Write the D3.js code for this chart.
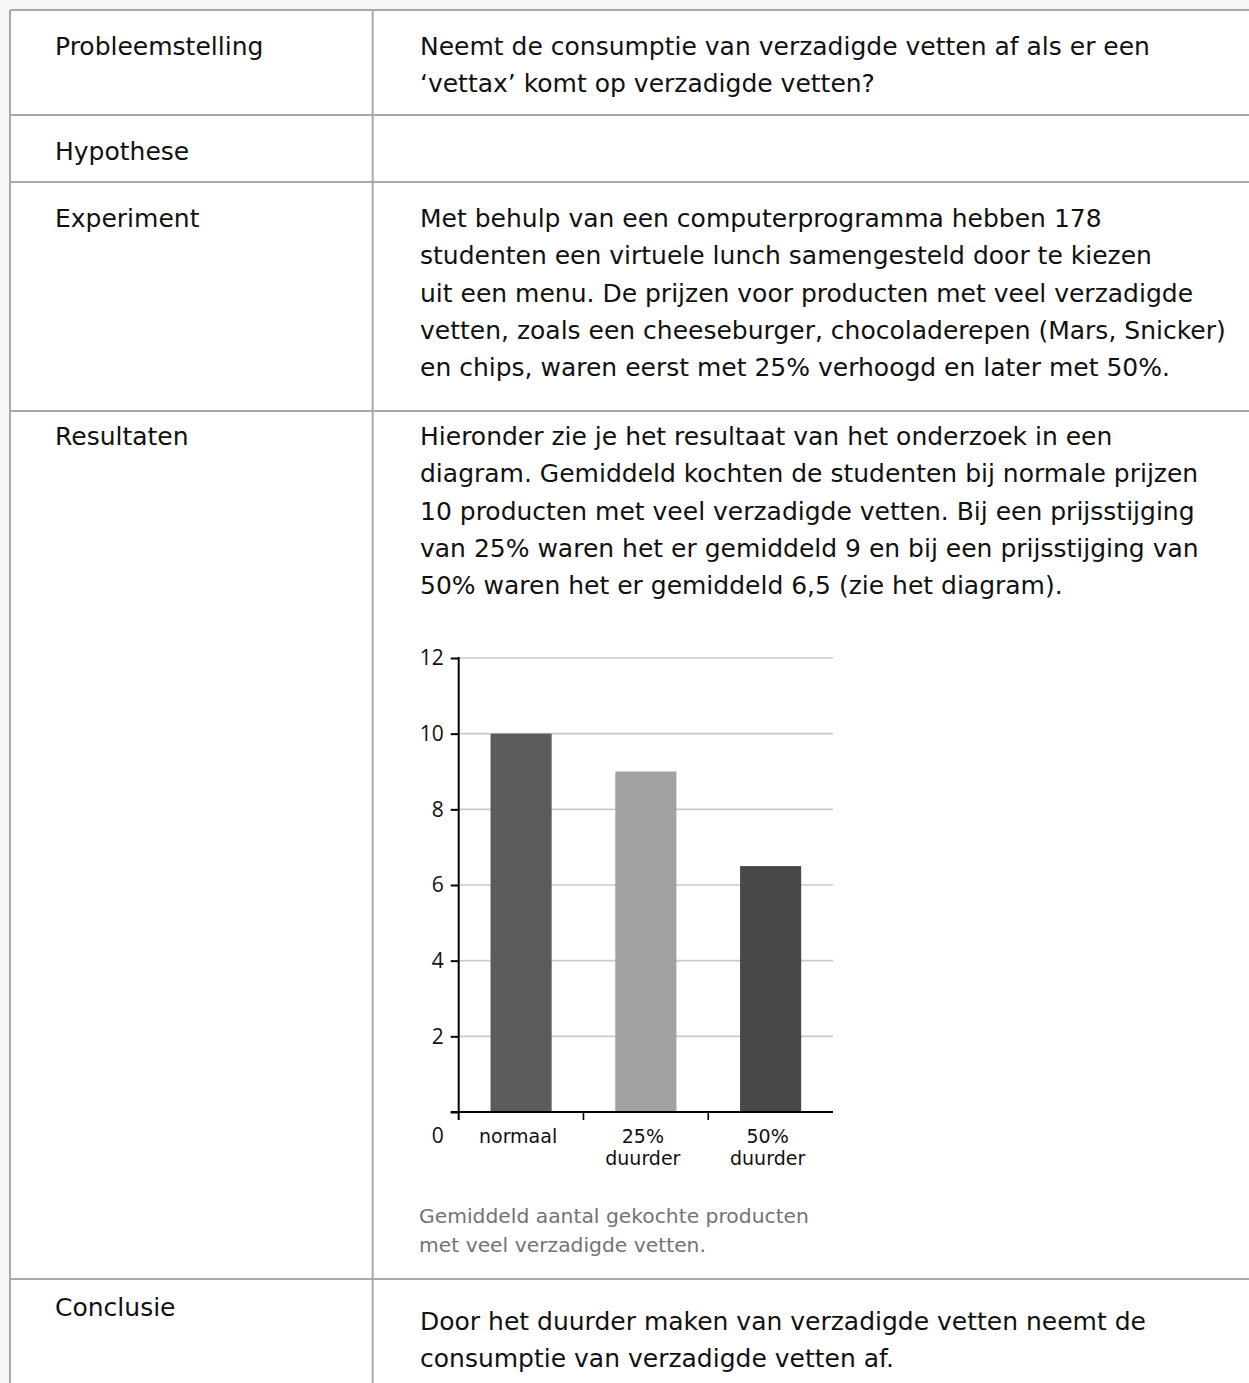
<!DOCTYPE html>
<html>
<head>
<meta charset="utf-8">
<script src="https://cdn.jsdelivr.net/npm/d3@7"></script>
<style>
  body { margin: 0; background: #f7f7f7; }
  svg { display: block; }
</style>
</head>
<body>
<div id="sheet"></div>
<script>
// table content
var rowLabels = ["Probleemstelling", "Hypothese", "Experiment", "Resultaten", "Conclusie"];

var rowTexts = [
  ["Neemt de consumptie van verzadigde vetten af als er een",
   "\u2018vettax\u2019 komt op verzadigde vetten?"],
  [],
  ["Met behulp van een computerprogramma hebben 178",
   "studenten een virtuele lunch samengesteld door te kiezen",
   "uit een menu. De prijzen voor producten met veel verzadigde",
   "vetten, zoals een cheeseburger, chocoladerepen (Mars, Snicker)",
   "en chips, waren eerst met 25% verhoogd en later met 50%."],
  ["Hieronder zie je het resultaat van het onderzoek in een",
   "diagram. Gemiddeld kochten de studenten bij normale prijzen",
   "10 producten met veel verzadigde vetten. Bij een prijsstijging",
   "van 25% waren het er gemiddeld 9 en bij een prijsstijging van",
   "50% waren het er gemiddeld 6,5 (zie het diagram)."],
  ["Door het duurder maken van verzadigde vetten neemt de",
   "consumptie van verzadigde vetten af."]
];

var captionLines = ["Gemiddeld aantal gekochte producten", "met veel verzadigde vetten."];

// chart data
var categories = ["normaal", "25% duurder", "50% duurder"];
var values = [10, 9, 6.5];
var barColors = ["#5b5b5b", "#a1a1a1", "#484848"];
var yTicks = [0, 2, 4, 6, 8, 10, 12];

// layout
var svgWidth = 1249;
var svgHeight = 1383;
var colX = 372.7;
var rowLines = [10, 115, 182, 411, 1279];
var labelBaselines = [55, 160, 227, 445, 1316];
var textBaselines = [55, 160, 227, 445, 1330];
var lineHeight = 37.3;
var bodyFont = "'DejaVu Sans', sans-serif";

var svg = d3.select("#sheet")
  .append("svg")
  .attr("width", svgWidth)
  .attr("height", svgHeight);

// white table body
svg.append("rect")
  .attr("x", 10)
  .attr("y", 10)
  .attr("width", svgWidth - 10)
  .attr("height", svgHeight - 10)
  .attr("fill", "#fff");

// table rules
svg.selectAll(".rowLine")
  .data(rowLines)
  .enter()
  .append("line")
  .attr("x1", 10)
  .attr("x2", svgWidth)
  .attr("y1", d => d)
  .attr("y2", d => d)
  .attr("stroke", "#a9a9a9")
  .attr("stroke-width", 2);

svg.selectAll(".colLine")
  .data([10, colX])
  .enter()
  .append("line")
  .attr("x1", d => d)
  .attr("x2", d => d)
  .attr("y1", 10)
  .attr("y2", svgHeight)
  .attr("stroke", "#a9a9a9")
  .attr("stroke-width", 2);

// left column labels
svg.selectAll(".rowLabel")
  .data(rowLabels)
  .enter()
  .append("text")
  .attr("x", 55)
  .attr("y", (d, i) => labelBaselines[i])
  .attr("font-family", bodyFont)
  .attr("font-size", "25px")
  .attr("fill", "#111")
  .text(d => d);

// right column text
rowTexts.forEach(function(lines, i) {
  svg.append("g")
    .selectAll("text")
    .data(lines)
    .enter()
    .append("text")
    .attr("x", 420)
    .attr("y", (d, j) => textBaselines[i] + j * lineHeight)
    .attr("font-family", bodyFont)
    .attr("font-size", "25px")
    .attr("fill", "#111")
    .text(d => d);
});

// caption under the chart
svg.selectAll(".caption")
  .data(captionLines)
  .enter()
  .append("text")
  .attr("x", 419)
  .attr("y", (d, i) => 1223 + i * 28.5)
  .attr("font-family", bodyFont)
  .attr("font-size", "20.3px")
  .attr("fill", "#737373")
  .text(d => d);

// bar chart
var chart = { left: 458.7, right: 833, top: 658, bottom: 1112 };

var yScale = d3.scaleLinear()
  .domain([0, 12])
  .range([chart.bottom, chart.top]);

var xScale = d3.scaleBand()
  .domain(categories)
  .range([chart.left, chart.right])
  .padding(0);

var barWidth = xScale.bandwidth() * 0.49;

var chartGroup = svg.append("g");

// gridlines
chartGroup.selectAll(".grid")
  .data(yTicks.filter(d => d > 0))
  .enter()
  .append("line")
  .attr("x1", chart.left)
  .attr("x2", chart.right)
  .attr("y1", d => yScale(d))
  .attr("y2", d => yScale(d))
  .attr("stroke", "#c9c9c9")
  .attr("stroke-width", 1.6);

// bars
chartGroup.selectAll(".bar")
  .data(values)
  .enter()
  .append("rect")
  .attr("x", (d, i) => xScale(categories[i]) + (xScale.bandwidth() - barWidth) / 2)
  .attr("y", d => yScale(d))
  .attr("width", barWidth)
  .attr("height", d => yScale(0) - yScale(d))
  .attr("fill", (d, i) => barColors[i]);

// y axis
var leftAxis = d3.axisLeft(yScale)
  .tickValues(yTicks)
  .tickSize(8)
  .tickPadding(7);

var yAxis = chartGroup.append("g")
  .attr("transform", `translate(${chart.left}, 0)`)
  .call(leftAxis);

yAxis.select(".domain").remove();
yAxis.selectAll("line")
  .attr("stroke", "#000")
  .attr("stroke-width", 2);
yAxis.selectAll("text")
  .attr("font-family", "'Open Sans', sans-serif")
  .attr("font-size", "21px")
  .attr("fill", "#111");

// the zero label sits down on the category label line
yAxis.selectAll(".tick")
  .filter(d => d === 0)
  .select("text")
  .attr("y", 24);

yAxis.append("line")
  .attr("x1", 0)
  .attr("x2", 0)
  .attr("y1", yScale(12) - 1)
  .attr("y2", yScale(0) + 8)
  .attr("stroke", "#000")
  .attr("stroke-width", 2);

// x axis
chartGroup.append("line")
  .attr("x1", chart.left - 8)
  .attr("x2", chart.right)
  .attr("y1", yScale(0))
  .attr("y2", yScale(0))
  .attr("stroke", "#000")
  .attr("stroke-width", 2);

chartGroup.selectAll(".xTick")
  .data(categories.slice(1))
  .enter()
  .append("line")
  .attr("x1", d => xScale(d))
  .attr("x2", d => xScale(d))
  .attr("y1", yScale(0))
  .attr("y2", yScale(0) + 8)
  .attr("stroke", "#000")
  .attr("stroke-width", 1.6);

// category labels
var catLabels = chartGroup.selectAll(".catLabel")
  .data(categories)
  .enter()
  .append("text")
  .attr("text-anchor", "middle")
  .attr("font-family", bodyFont)
  .attr("font-size", "19px")
  .attr("fill", "#111");

catLabels.selectAll("tspan")
  .data(d => d.split(" ").map(w => ({ word: w, cat: d })))
  .enter()
  .append("tspan")
  .attr("x", d => xScale(d.cat) + xScale.bandwidth() / 2 - 3)
  .attr("y", (d, i) => yScale(0) + 31 + i * 22)
  .text(d => d.word);
</script>
</body>
</html>
